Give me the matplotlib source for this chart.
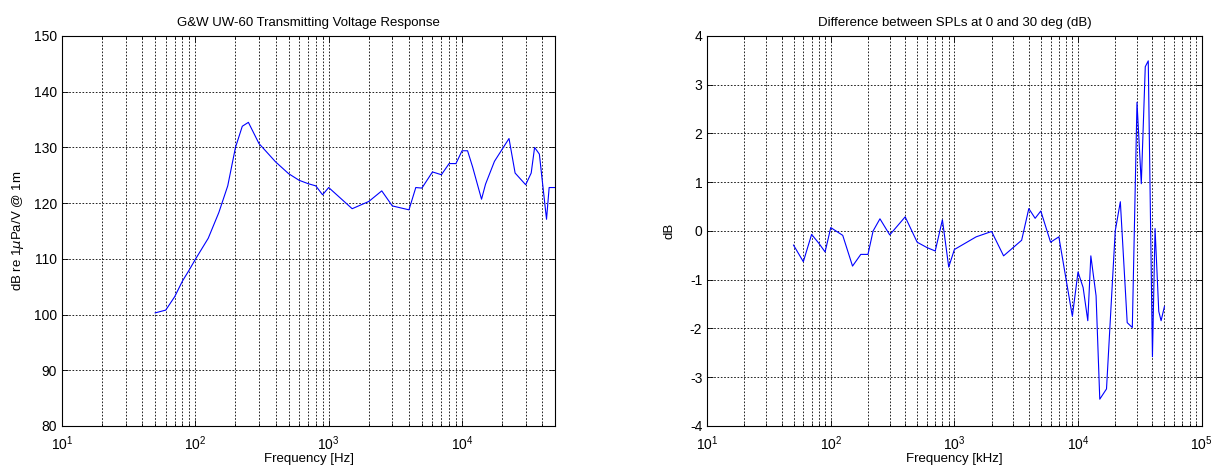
import numpy as np
import matplotlib
matplotlib.use('Agg')
import matplotlib.pyplot as plt
from matplotlib.ticker import LogLocator, NullFormatter

plt.rcParams['font.family'] = ['Liberation Sans', 'DejaVu Sans']
plt.rcParams['axes.unicode_minus'] = False

# transmitting voltage response (left)
tvr_freq = [50, 60, 70, 80, 90, 100, 125, 150, 175, 200, 225, 250, 300, 400, 500, 600,
            700, 800, 900, 1000, 1500, 2000, 2500, 3000, 4000, 4500, 5000, 6000, 7000,
            8000, 9000, 10000, 11000, 12000, 14000, 15000, 17500, 22500, 25000, 30000,
            33000, 35000, 38000, 43000, 45000, 50000]
tvr_db = [100.3, 100.8, 103.2, 106.0, 108.0, 109.9, 113.7, 118.3, 123.1, 130.0, 133.8,
          134.5, 130.7, 127.4, 125.3, 124.1, 123.5, 123.1, 121.5, 122.8, 119.0, 120.3,
          122.2, 119.5, 118.8, 122.8, 122.7, 125.6, 125.1, 127.1, 127.1, 129.4, 129.4,
          126.5, 120.7, 123.4, 127.5, 131.6, 125.4, 123.3, 125.4, 130.0, 128.8, 117.1,
          122.8, 122.8]

# difference between SPLs at 0 and 30 deg (right)
diff_freq = [50, 60, 70, 80, 90, 100, 125, 150, 175, 200, 220, 250, 300, 400, 500, 600,
             700, 800, 900, 1000, 1500, 2000, 2500, 3500, 4000, 4500, 5000, 6000, 7000,
             9000, 10000, 11000, 12000, 12700, 14000, 15000, 17000, 20000, 22000, 25000,
             27500, 30000, 32500, 35000, 37000, 40000, 42000, 45000, 47000, 50000]
diff_db = [-0.29, -0.63, -0.07, -0.25, -0.43, 0.07, -0.09, -0.72, -0.48, -0.48, 0.0, 0.25,
           -0.08, 0.29, -0.23, -0.34, -0.41, 0.23, -0.74, -0.38, -0.12, -0.01, -0.51,
           -0.19, 0.46, 0.26, 0.41, -0.23, -0.12, -1.75, -0.84, -1.16, -1.84, -0.51, -1.33,
           -3.45, -3.24, 0.0, 0.6, -1.88, -1.98, 2.64, 0.97, 3.37, 3.49, -2.58, 0.05,
           -1.65, -1.84, -1.55]

fig = plt.figure(figsize=(12.15, 4.73), dpi=100)
ax1 = fig.add_axes([0.051, 0.0994, 0.406, 0.8245])
ax2 = fig.add_axes([0.582, 0.0994, 0.407, 0.8245])

grid_kw = dict(color='black', linestyle=(0, (2, 2)), linewidth=0.6)


def style(ax):
    ax.set_xscale('log')
    ax.xaxis.set_major_locator(LogLocator(base=10, numticks=10))
    ax.xaxis.set_minor_locator(LogLocator(base=10, subs=np.arange(2, 10), numticks=20))
    ax.xaxis.set_minor_formatter(NullFormatter())
    ax.grid(True, which='major', axis='both', **grid_kw)
    ax.grid(True, which='minor', axis='x', **grid_kw)
    ax.tick_params(which='both', direction='in', top=True, right=True,
                   labelsize=10, width=0.6)
    ax.tick_params(which='major', length=4)
    ax.tick_params(which='minor', length=2)
    ax.tick_params(axis='x', pad=6)
    for s in ax.spines.values():
        s.set_linewidth(0.8)
    ax.set_axisbelow(True)


ax1.plot(tvr_freq, tvr_db, color='#0000ff', linewidth=0.8)
style(ax1)
ax1.set_xlim(10, 50000)
ax1.set_ylim(80, 150)
ax1.set_yticks(range(80, 151, 10))
ax1.set_title('G&W UW-60 Transmitting Voltage Response', fontsize=9.5, pad=7)
ax1.set_xlabel('Frequency [Hz]', fontsize=9.5, labelpad=0)
ax1.set_ylabel(r'dB re 1$\mu$Pa/V @ 1m', fontsize=9.5, labelpad=6)

ax2.plot(diff_freq, diff_db, color='#0000ff', linewidth=0.8)
style(ax2)
ax2.set_xlim(10, 100000)
ax2.set_ylim(-4, 4)
ax2.set_yticks(range(-4, 5))
ax2.set_title('Difference between SPLs at 0 and 30 deg (dB)', fontsize=9.5, pad=7)
ax2.set_xlabel('Frequency [kHz]', fontsize=9.5, labelpad=0)
ax2.set_ylabel('dB', fontsize=9.5, labelpad=10)

fig.savefig('out.png', dpi=100)
